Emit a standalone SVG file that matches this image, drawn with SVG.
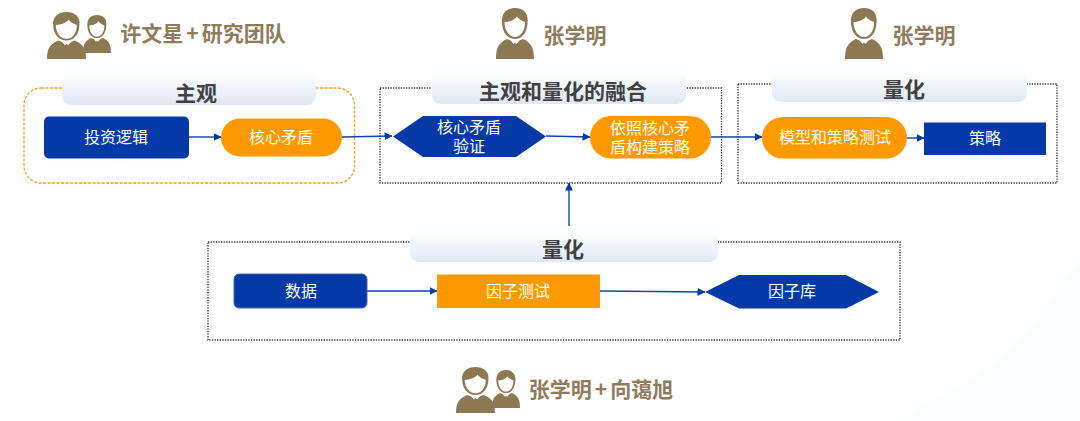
<svg xmlns="http://www.w3.org/2000/svg" width="1080" height="421" viewBox="0 0 1080 421">
<style>
text{font-family:"Noto Sans CJK SC","Noto Sans",sans-serif;text-anchor:middle}
.w{font-size:16px;fill:#fff}
.h{font-size:21px;font-weight:700;fill:#404040}
.p{font-size:21px;font-weight:700;fill:#8f7b5a}
.blue{fill:#0539a8}
.or{fill:#ff9900}
.dot{fill:none;stroke:#333;stroke-width:1.3;stroke-dasharray:1.3 1.3}
.c{fill:none;stroke:#0f43a8;stroke-width:1.4;marker-end:url(#a)}
.hd{fill:url(#g)}
</style>
<defs>
<linearGradient id="g" x1="0" y1="0" x2="0" y2="1"><stop offset="0" stop-color="#fff"/><stop offset="1" stop-color="#dee8f4"/></linearGradient>
<marker id="a" markerUnits="userSpaceOnUse" markerWidth="8" markerHeight="8" refX="7.5" refY="4" orient="auto"><path d="M0 0L8 4L0 8Z" fill="#0539a8"/></marker>
<symbol id="person" viewBox="0 0 38 51" preserveAspectRatio="none">
<path d="M0 51C0 41 2 35 11 31L19 34L27 31C36 35 38 41 38 51Z" fill="#8c7853"/>
<path d="M6 15C5 5 11 0 19 0C27 0 33 5 31.500 15C31 25 26 31 19 31C12 31 6.500 25 6 15Z" fill="#8c7853"/>
<path d="M8.500 14C13 14 18 12.500 21 8.500C23 11.500 26 13 29 14C29.300 22 25 29 19 29C13 29 8.500 22 8.500 14Z" fill="#fff"/>
<path d="M12.500 30.500L15 33L17.500 36L19 34.500L20.500 36L23 33L25.500 30.500L19 32.500Z" fill="#fff"/>
</symbol>
</defs>
<rect width="1080" height="421" fill="#fff"/>
<path d="M900 421C960 380 1010 370 1050 300C1065 280 1075 270 1080 260V421Z" fill="#fcfdfe"/>
<g id="containers">
<rect x="24" y="88" width="330.500" height="95" rx="17" fill="none" stroke="#ff9f1a" stroke-width="1.300" stroke-dasharray="3 1.500"/>
<rect class="dot" x="380" y="88" width="341.500" height="95"/>
<rect class="dot" x="738" y="84" width="319" height="99"/>
<rect class="dot" x="208" y="242" width="692" height="98"/>
</g>
<g id="connectors">
<path class="c" d="M189 137H221"/>
<path class="c" d="M342 137L392 136"/>
<path class="c" d="M546 136L590 137"/>
<path class="c" d="M711 137H762"/>
<path class="c" d="M907 138H924"/>
<path class="c" d="M367 291H437"/>
<path class="c" d="M600 291L705 292"/>
<path class="c" d="M569 226V183"/>
</g>
<g id="header-subjective"><rect class="hd" x="62" y="73" width="254" height="32" rx="9"/><text class="h" x="196" y="101">主观</text></g>
<g id="header-fusion"><rect class="hd" x="432" y="72" width="254" height="32" rx="9"/><text class="h" x="563" y="99">主观和量化的融合</text></g>
<g id="header-quant-top"><rect class="hd" x="772" y="70" width="255" height="32" rx="9"/><text class="h" x="904" y="97">量化</text></g>
<g id="header-quant-bottom"><rect class="hd" x="410" y="232" width="308" height="30" rx="9"/><text class="h" x="563" y="257">量化</text></g>
<g id="node-logic"><rect class="blue" x="44" y="116.500" width="145" height="42" rx="5"/><text class="w" x="116" y="143">投资逻辑</text></g>
<g id="node-core"><rect class="or" x="221" y="118.500" width="121" height="38" rx="19"/><text class="w" x="281" y="143">核心矛盾</text></g>
<g id="node-verify"><path class="blue" d="M393 136.500L423 116H516L546 136.500L516 157H423Z"/><text class="w" x="469" y="133">核心矛盾</text><text class="w" x="469" y="152">验证</text></g>
<g id="node-build"><rect class="or" x="590" y="116" width="121" height="42.500" rx="21"/><text class="w" x="650" y="134">依照核心矛</text><text class="w" x="650" y="153">盾构建策略</text></g>
<g id="node-test"><rect class="or" x="762" y="117" width="145" height="41.500" rx="20.700"/><text class="w" x="835" y="143">模型和策略测试</text></g>
<g id="node-strategy"><rect class="blue" x="924" y="122.500" width="122" height="32.500"/><text class="w" x="985" y="144">策略</text></g>
<g id="node-data"><rect class="blue" x="234" y="274" width="133" height="34" rx="5" stroke="#3f66b8" stroke-width="1"/><text class="w" x="301" y="297">数据</text></g>
<g id="node-factor-test"><rect class="or" x="437" y="274.500" width="163" height="33.500"/><text class="w" x="518" y="297">因子测试</text></g>
<g id="node-factor-lib"><path class="blue" d="M705 292L739 275H846L879 292L846 308.500H739Z"/><text class="w" x="792" y="297">因子库</text></g>
<g id="person-1"><use href="#person" x="83" y="15" width="28" height="38"/><use href="#person" x="47" y="12" width="39" height="47"/><text class="p" x="203" y="41">许文星<tspan dx="3">+</tspan><tspan dx="3">研究团队</tspan></text></g>
<g id="person-2"><use href="#person" x="496" y="8" width="38" height="51"/><text class="p" x="575" y="43">张学明</text></g>
<g id="person-3"><use href="#person" x="845" y="8" width="38" height="51"/><text class="p" x="924" y="43">张学明</text></g>
<g id="person-4"><use href="#person" x="492" y="370" width="28" height="38"/><use href="#person" x="456" y="367" width="39" height="46"/><text class="p" x="601" y="397">张学明<tspan dx="3">+</tspan><tspan dx="3">向蔼旭</tspan></text></g>
</svg>
